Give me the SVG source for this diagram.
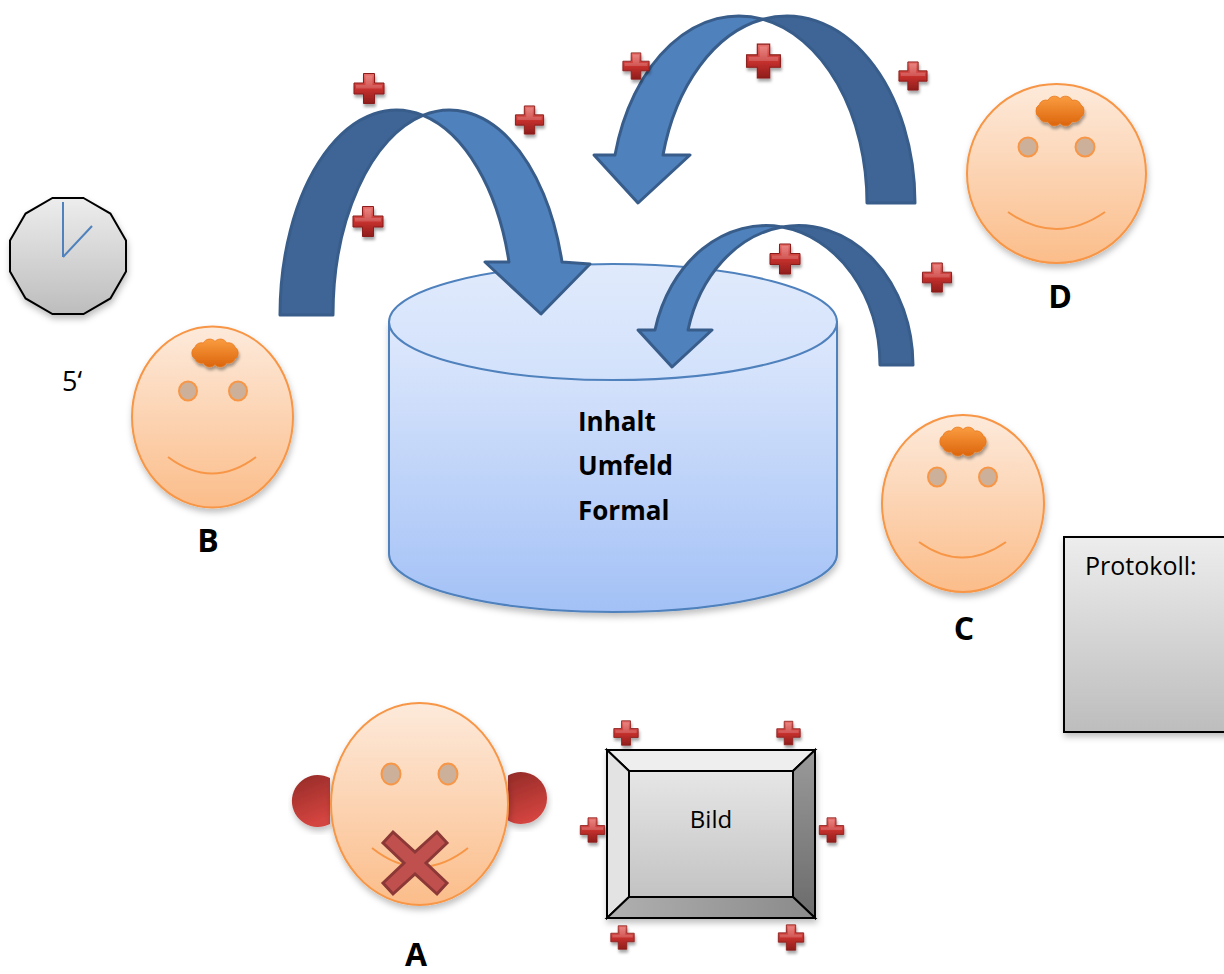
<svg xmlns="http://www.w3.org/2000/svg" xmlns:xlink="http://www.w3.org/1999/xlink" width="1224" height="974" viewBox="0 0 1224 974">
  <style>
    .face { fill: url(#faceGrad); stroke: #f79646; stroke-width: 2; }
    .eye { fill: #cdb09a; stroke: #f79646; stroke-width: 2; }
    .smile { fill: none; stroke: #f79646; stroke-width: 2; }
    .label { font-family: "Open Sans", "Liberation Sans", sans-serif; font-weight: bold; font-size: 32px; fill: #000; text-anchor: middle; }
    .txt { font-family: "Open Sans", "Liberation Sans", sans-serif; font-size: 24px; fill: #000; }
    .bold { font-family: "Open Sans", "Liberation Sans", sans-serif; font-weight: bold; font-size: 26px; fill: #000; }
    .back { fill: #3e6596; stroke: #385d8a; stroke-width: 3; stroke-linejoin: round; }
    .front { fill: #4f81bd; stroke: #385d8a; stroke-width: 3; stroke-linejoin: round; }
    .edge { stroke: #000; stroke-width: 2; stroke-linejoin: miter; }
    .plus { filter: url(#plusShadow); }
    .hair { filter: url(#plusShadow); }
  </style>
  <defs>
    <linearGradient id="faceGrad" x1="0" y1="0" x2="0" y2="1">
      <stop offset="0" stop-color="#fdeadb"/>
      <stop offset="1" stop-color="#fbbd8a"/>
    </linearGradient>
    <linearGradient id="cloudGrad" x1="0" y1="0" x2="0" y2="1">
      <stop offset="0" stop-color="#fa9c40"/>
      <stop offset="1" stop-color="#dc650c"/>
    </linearGradient>
    <linearGradient id="earGrad" x1="0" y1="0" x2="0.3" y2="1">
      <stop offset="0" stop-color="#932a27"/>
      <stop offset="1" stop-color="#d3443f"/>
    </linearGradient>
    <linearGradient id="plusGrad" x1="0" y1="0" x2="0" y2="1">
      <stop offset="0" stop-color="#e8706c"/>
      <stop offset="0.5" stop-color="#c7312e"/>
      <stop offset="1" stop-color="#8f1d1b"/>
    </linearGradient>
    <linearGradient id="cylBody" x1="0" y1="0" x2="0" y2="1">
      <stop offset="0" stop-color="#dfe9fc"/>
      <stop offset="1" stop-color="#a3c1f6"/>
    </linearGradient>
    <linearGradient id="cylTop" x1="0" y1="0" x2="0" y2="1">
      <stop offset="0" stop-color="#e0eafc"/>
      <stop offset="1" stop-color="#d2e1fb"/>
    </linearGradient>
    <linearGradient id="greyGrad" x1="0" y1="0" x2="0" y2="1">
      <stop offset="0" stop-color="#ededed"/>
      <stop offset="1" stop-color="#bdbdbd"/>
    </linearGradient>
    <linearGradient id="innerGrad" x1="0" y1="0" x2="0" y2="1">
      <stop offset="0" stop-color="#e6e6e6"/>
      <stop offset="1" stop-color="#c3c3c3"/>
    </linearGradient>
    <linearGradient id="rightBevel" x1="0" y1="0" x2="0" y2="1">
      <stop offset="0" stop-color="#9a9a9a"/>
      <stop offset="1" stop-color="#6b6b6b"/>
    </linearGradient>
    <linearGradient id="bottomBevel" x1="0" y1="0" x2="1" y2="0">
      <stop offset="0" stop-color="#b0b0b0"/>
      <stop offset="1" stop-color="#8a8a8a"/>
    </linearGradient>
    <filter id="plusShadow" x="-30%" y="-30%" width="170%" height="170%">
      <feDropShadow dx="1" dy="3" stdDeviation="1.5" flood-color="#000" flood-opacity="0.35"/>
    </filter>
    <filter id="softShadow" x="-10%" y="-10%" width="125%" height="125%">
      <feDropShadow dx="1" dy="4" stdDeviation="3" flood-color="#000" flood-opacity="0.25"/>
    </filter>
    <!-- bevelled red plus sign -->
    <symbol id="plus" viewBox="-16 -16 32 32">
      <path d="M-5.5,-15 H5.5 V-5.5 H15 V5.5 H5.5 V15 H-5.5 V5.5 H-15 V-5.5 H-5.5 Z" fill="url(#plusGrad)" stroke="#8a1c1a" stroke-width="1"/>
      <path d="M-3.5,-13 H3.5 V-3.5 H13 V0 H-13 V-3.5 H-3.5 Z" fill="#ffffff" opacity="0.18"/>
    </symbol>
    <!-- scalloped orange cloud of hair -->
    <symbol id="cloud" viewBox="-2 -3 56 36" preserveAspectRatio="none">
      <path d="M50,15 A7,7 0 0 1 46.8,21.5 A7,7 0 0 1 38,26.3 A7,7 0 0 1 26,28 A7,7 0 0 1 14,26.3 A7,7 0 0 1 5.2,21.5 A7,7 0 0 1 2,15 A7,7 0 0 1 5.2,8.5 A7,7 0 0 1 14,3.7 A7,7 0 0 1 26,2 A7,7 0 0 1 38,3.7 A7,7 0 0 1 46.8,8.5 A7,7 0 0 1 50,15 Z" fill="url(#cloudGrad)" stroke="#e8761a" stroke-width="0.8"/>
    </symbol>
  </defs>

  <rect width="1224" height="974" fill="#ffffff"/>

  <!-- clock -->
  <g id="clock">
    <polygon points="83.5,198 110.4,213.6 126,240.5 126,271.5 110.4,298.4 83.5,314 52.5,314 25.6,298.4 10,271.5 10,240.5 25.6,213.6 52.5,198" fill="url(#greyGrad)" class="edge" filter="url(#softShadow)"/>
    <line x1="63" y1="257" x2="63" y2="202" stroke="#4f81bd" stroke-width="2"/>
    <line x1="63" y1="257" x2="92" y2="226" stroke="#4f81bd" stroke-width="2"/>
    <text x="62" y="391" class="txt" style="font-size:27px">5‘</text>
  </g>

  <!-- central store -->
  <g id="store">
    <path d="M389,322 V554 A224,58 0 0 0 837,554 V322 Z" fill="url(#cylBody)" stroke="#4f81bd" stroke-width="2" filter="url(#softShadow)"/>
    <ellipse cx="613" cy="322" rx="224" ry="58" fill="url(#cylTop)" stroke="#4f81bd" stroke-width="2"/>
    <text x="578" y="431" class="bold">Inhalt</text>
    <text x="578" y="475" class="bold">Umfeld</text>
    <text x="578" y="520" class="bold">Formal</text>
  </g>

  <!-- curved arrows -->
  <g id="connectors">
    <!-- from B into the store -->
    <g id="arrow-b">
      <path class="back" d="M280,315 A116.5,205 0 0 1 423,115.4 A116.5,205 0 0 0 333,315 Z"/>
      <path class="front" d="M423,115.4 A116.5,205 0 0 1 562,262 L590,264 L541,314 L485,262 L509,262 A116.5,205 0 0 0 423,115.4 Z"/>
    </g>
    <!-- from D into the store -->
    <g id="arrow-d">
      <path class="back" d="M915,203 A128,187 0 0 0 763,19.3 A128,187 0 0 1 867,203 Z"/>
      <path class="front" d="M763,19.3 A128,187 0 0 0 615,155 L594,155 L638,203 L690,155 L663,155 A128,187 0 0 1 763,19.3 Z"/>
    </g>
    <!-- from C into the store -->
    <g id="arrow-c">
      <path class="back" d="M913,365 A114.5,140 0 0 0 782,227 A114.5,140 0 0 1 880,365 Z"/>
      <path class="front" d="M782,227 A114.5,140 0 0 0 655,330 L638,330 L672,367 L712,330 L688,330 A114.5,140 0 0 1 782,227 Z"/>
    </g>
  </g>

  <!-- plus marks around the arrows -->
  <g id="marks">
    <use href="#plus" class="plus" x="353" y="72" width="32" height="33"/>
    <use href="#plus" class="plus" x="514" y="105" width="31" height="30"/>
    <use href="#plus" class="plus" x="352" y="205" width="32" height="33"/>
    <use href="#plus" class="plus" x="622" y="52" width="28" height="28"/>
    <use href="#plus" class="plus" x="745" y="43" width="37" height="36"/>
    <use href="#plus" class="plus" x="897" y="61" width="32" height="30"/>
    <use href="#plus" class="plus" x="768" y="243" width="34" height="32"/>
    <use href="#plus" class="plus" x="921" y="262" width="32" height="31"/>
  </g>

  <!-- person B -->
  <g id="person-b">
    <ellipse class="face" cx="212.5" cy="417" rx="80.5" ry="90.5" filter="url(#softShadow)"/>
    <use href="#cloud" class="hair" x="188" y="337" width="54" height="32"/>
    <ellipse class="eye" cx="188" cy="391" rx="9" ry="9.5"/>
    <ellipse class="eye" cx="238" cy="391" rx="9" ry="9.5"/>
    <path class="smile" d="M168,457 Q212,490 256,457"/>
    <text x="208" y="552" class="label">B</text>
  </g>

  <!-- person D -->
  <g id="person-d">
    <ellipse class="face" cx="1056.5" cy="173.5" rx="89.5" ry="89.5" filter="url(#softShadow)"/>
    <use href="#cloud" class="hair" x="1032" y="94" width="56" height="34"/>
    <ellipse class="eye" cx="1028" cy="147" rx="9.5" ry="9.5"/>
    <ellipse class="eye" cx="1085" cy="147" rx="9.5" ry="9.5"/>
    <path class="smile" d="M1008,212 Q1056,246 1105,212"/>
    <text x="1060" y="308" class="label">D</text>
  </g>

  <!-- person C -->
  <g id="person-c">
    <ellipse class="face" cx="963" cy="503.5" rx="81" ry="88.5" filter="url(#softShadow)"/>
    <use href="#cloud" class="hair" x="936" y="425" width="54" height="33"/>
    <ellipse class="eye" cx="937" cy="477" rx="9" ry="9.5"/>
    <ellipse class="eye" cx="988" cy="477" rx="9" ry="9.5"/>
    <path class="smile" d="M919,542 Q962,573 1006,542"/>
    <text x="964" y="640" class="label">C</text>
  </g>

  <!-- person A: listening, not speaking -->
  <g id="person-a">
    <path d="M330,778 A26,26 0 1 0 330,824 Z" fill="url(#earGrad)" filter="url(#softShadow)"/>
    <path d="M508,775.5 A26,26 0 1 1 508,820.5 Z" fill="url(#earGrad)" filter="url(#softShadow)"/>
    <ellipse class="face" cx="419.5" cy="804" rx="88.5" ry="101" filter="url(#softShadow)"/>
    <ellipse class="eye" cx="391" cy="774" rx="9.5" ry="10.5"/>
    <ellipse class="eye" cx="448" cy="774" rx="9.5" ry="10.5"/>
    <path class="smile" d="M372,848 Q420,886 468,848"/>
    <path d="M415,863 m-22,-31 l22,20 l22,-20 l10,11 l-21,20 l21,20 l-10,11 l-22,-20 l-22,20 l-10,-11 l21,-20 l-21,-20 Z" fill="#c0504d" stroke="#8c3836" stroke-width="3" stroke-linejoin="miter"/>
    <text x="416" y="966" class="label">A</text>
  </g>

  <!-- picture frame -->
  <g id="bild">
    <g filter="url(#softShadow)">
      <polygon points="607,750 815,750 793,771 629,771" fill="#eeeeee" class="edge"/>
      <polygon points="607,750 629,771 629,897 607,918" fill="#e3e3e3" class="edge"/>
      <polygon points="815,750 815,918 793,897 793,771" fill="url(#rightBevel)" class="edge"/>
      <polygon points="607,918 629,897 793,897 815,918" fill="url(#bottomBevel)" class="edge"/>
      <rect x="629" y="771" width="164" height="126" fill="url(#innerGrad)" class="edge"/>
    </g>
    <text x="711" y="828" class="txt" text-anchor="middle">Bild</text>
    <use href="#plus" class="plus" x="613" y="719" width="26" height="28"/>
    <use href="#plus" class="plus" x="776" y="720" width="25" height="26"/>
    <use href="#plus" class="plus" x="579" y="817" width="27" height="26"/>
    <use href="#plus" class="plus" x="818" y="817" width="27" height="26"/>
    <use href="#plus" class="plus" x="610" y="924" width="25" height="27"/>
    <use href="#plus" class="plus" x="777" y="924" width="28" height="27"/>
  </g>

  <!-- minutes sheet -->
  <g id="protokoll">
    <rect x="1064" y="537" width="180" height="195" fill="url(#greyGrad)" class="edge" filter="url(#softShadow)"/>
    <text x="1085" y="575" class="txt" style="font-size:25px">Protokoll:</text>
  </g>
</svg>
